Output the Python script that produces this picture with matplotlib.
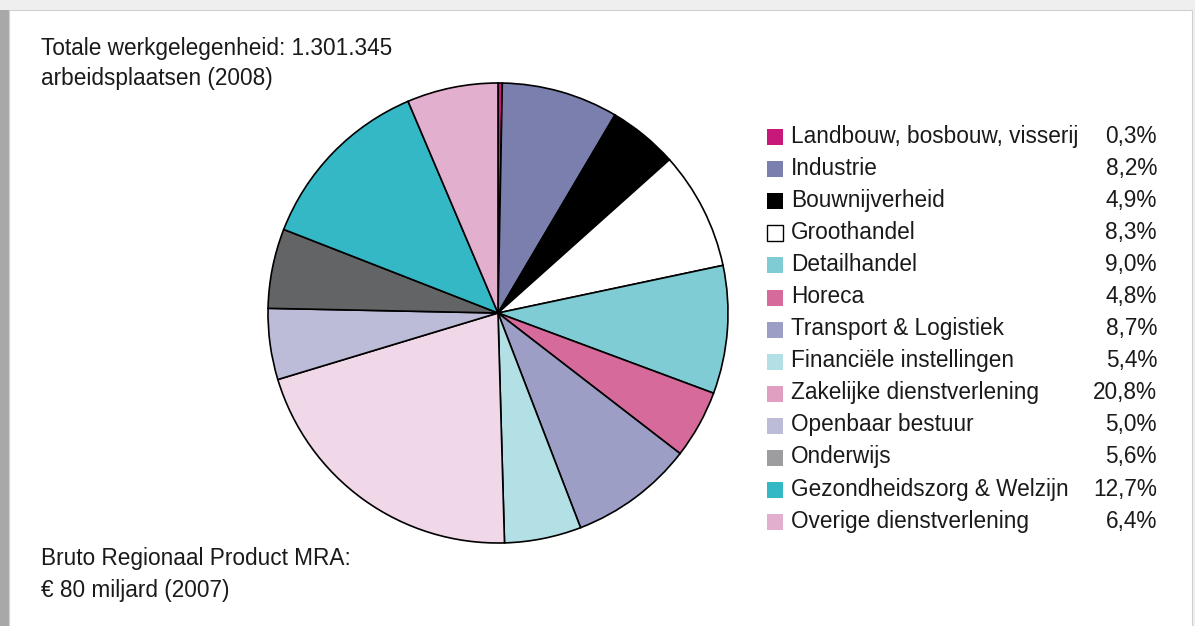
import matplotlib.pyplot as plt
import matplotlib.patches as mpatches

plt.rcParams['font.family'] = ['Liberation Sans', 'DejaVu Sans']

sectors = ["Landbouw, bosbouw, visserij", "Industrie", "Bouwnijverheid",
           "Groothandel", "Detailhandel", "Horeca", "Transport & Logistiek",
           "Financiële instellingen", "Zakelijke dienstverlening",
           "Openbaar bestuur", "Onderwijs", "Gezondheidszorg & Welzijn",
           "Overige dienstverlening"]
shares = [0.3, 8.2, 4.9, 8.3, 9.0, 4.8, 8.7, 5.4, 20.8, 5.0, 5.6, 12.7, 6.4]
pie_colors = ["#c8197a", "#7a7fad", "#000000", "#ffffff", "#80ccd4", "#d56a9b",
              "#9c9ec5", "#b3e0e5", "#f0d8e9", "#bcbcd8", "#636466", "#35b8c5",
              "#e3afce"]
legend_colors = ["#c8197a", "#7a7fad", "#000000", "#ffffff", "#80ccd4", "#d56a9b",
                 "#9c9ec5", "#b3e0e5", "#e09ec0", "#bcbcd8", "#9d9d9f", "#35b8c5",
                 "#e3afce"]

W, H = 1195, 626
fs = 16.3
fig = plt.figure(figsize=(W / 100, H / 100), dpi=100)
ax = fig.add_axes([0, 0, 1, 1])

# panel with shadow
ax.add_patch(mpatches.Rectangle((0, 0), W, H, facecolor="#efefef", edgecolor="none", zorder=0))
ax.add_patch(mpatches.Rectangle((0, 0), 9, H - 10, facecolor="#a8a8a8", edgecolor="none", zorder=0))
ax.add_patch(mpatches.Rectangle((9, -5), W - 12, H - 10 + 5, facecolor="white",
                                edgecolor="#d0d0d0", linewidth=0.8, zorder=0))

ax.pie(shares, colors=pie_colors, startangle=90, counterclock=False,
       radius=230, center=(498, H - 313),
       wedgeprops=dict(edgecolor="black", linewidth=1.2), frame=True)

# legend
y0, dy = 136, 32.1
for i, (name, val, c) in enumerate(zip(sectors, shares, legend_colors)):
    y = H - (y0 + i * dy)
    ax.add_patch(mpatches.Rectangle((767, y - 9), 16, 16, facecolor=c,
                                    edgecolor="black" if c == "#ffffff" else "none",
                                    linewidth=1.0))
    ax.text(791, y, name, fontsize=fs, va="center", ha="left", color="#1a1a1a")
    ax.text(1157, y, f"{val:.1f}%".replace(".", ","), fontsize=fs,
            va="center", ha="right", color="#1a1a1a")

ax.text(41, H - 48, "Totale werkgelegenheid: 1.301.345", fontsize=fs,
        va="center", ha="left", color="#1a1a1a")
ax.text(41, H - 78, "arbeidsplaatsen (2008)", fontsize=fs,
        va="center", ha="left", color="#1a1a1a")
ax.text(41, H - 559, "Bruto Regionaal Product MRA:", fontsize=fs,
        va="center", ha="left", color="#1a1a1a")
ax.text(41, H - 591, "€ 80 miljard (2007)", fontsize=fs,
        va="center", ha="left", color="#1a1a1a")

ax.set_xlim(0, W)
ax.set_ylim(0, H)
ax.set_aspect("auto")
ax.axis("off")

fig.savefig("out.png", dpi=100)
